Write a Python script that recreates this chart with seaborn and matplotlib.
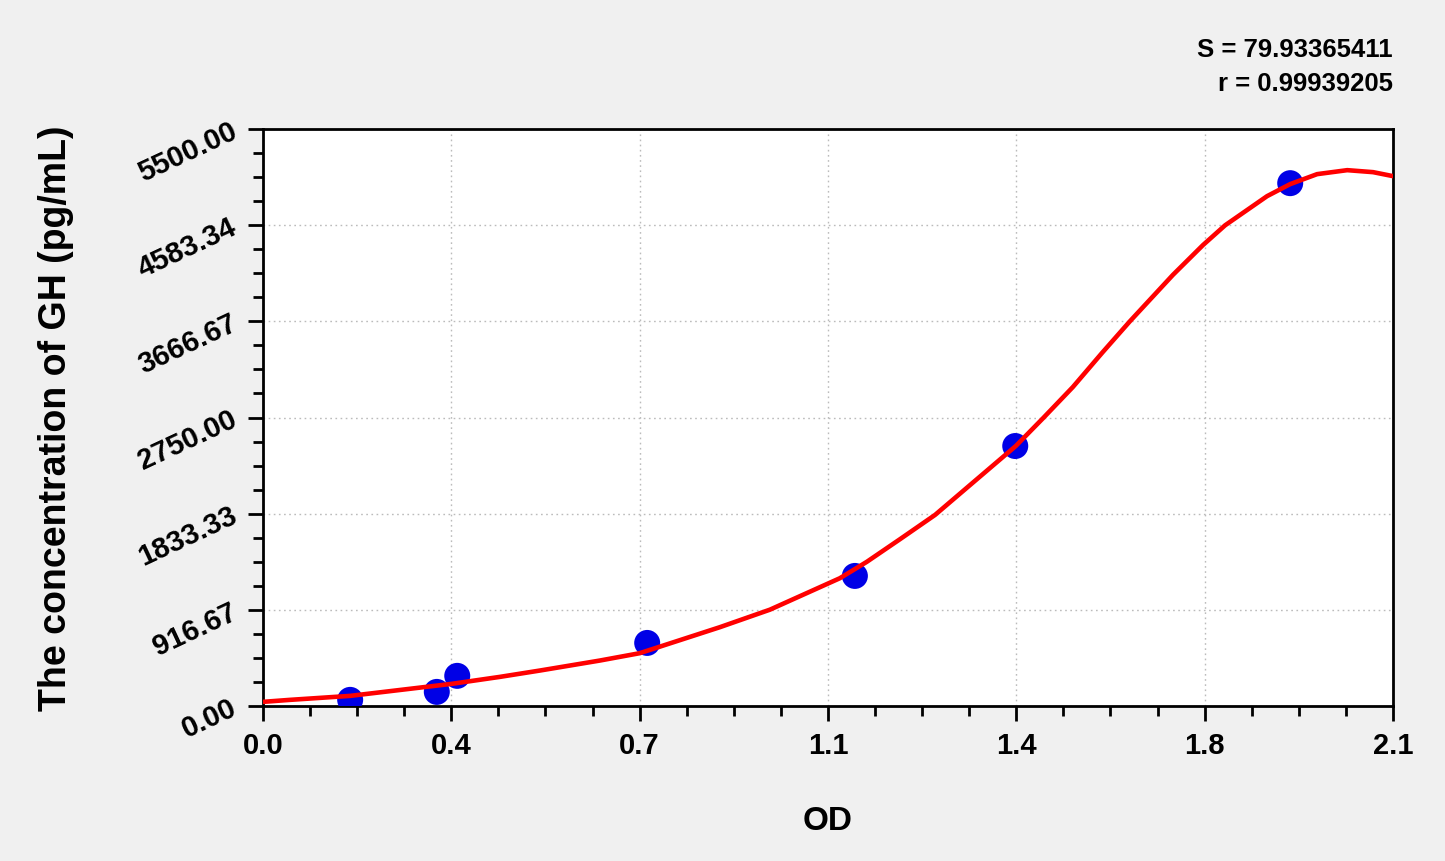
import numpy as np
import pandas as pd
import seaborn as sns
import matplotlib.pyplot as plt
from matplotlib.ticker import AutoMinorLocator

# Standard points (OD, concentration)
od_points = [0.162, 0.323, 0.361, 0.714, 1.100, 1.398, 1.909]
conc_points = [57, 133, 286, 600, 1239, 2478, 4985]

# Fitted curve
curve_od = [0.000, 0.050, 0.162, 0.351, 0.440, 0.515, 0.626, 0.700, 0.849, 0.942,
            1.072, 1.122, 1.184, 1.249, 1.399, 1.450, 1.505, 1.560, 1.611, 1.691,
            1.747, 1.788, 1.866, 1.909, 1.959, 2.015, 2.063, 2.100]
curve_conc = [38, 57, 95, 210, 276, 337, 432, 502, 750, 917,
              1217, 1373, 1590, 1821, 2478, 2745, 3040, 3370, 3667, 4110,
              4395, 4583, 4861, 4976, 5071, 5109, 5090, 5052]

x_tick_labels = ["0.0", "0.4", "0.7", "1.1", "1.4", "1.8", "2.1"]
y_tick_labels = ["0.00", "916.67", "1833.33", "2750.00", "3666.67", "4583.34", "5500.00"]

stats_text = "S = 79.93365411\nr = 0.99939205"

sns.set_style("white")
plt.rcParams['font.family'] = ['Liberation Sans', 'DejaVu Sans']
plt.rcParams['font.weight'] = 'bold'
plt.rcParams['text.color'] = 'black'
plt.rcParams['axes.labelcolor'] = 'black'
plt.rcParams['xtick.color'] = 'black'
plt.rcParams['ytick.color'] = 'black'

fig = plt.figure(figsize=(14.45, 8.62), dpi=100, facecolor='#f0f0f0')
ax = fig.add_axes([0.182, 0.180, 0.782, 0.669])
ax.set_facecolor('white')

df_pts = pd.DataFrame({'OD': od_points, 'conc': conc_points})
df_curve = pd.DataFrame({'OD': curve_od, 'conc': curve_conc})

sns.scatterplot(data=df_pts, x='OD', y='conc', ax=ax, color='#0000e6',
                s=350, edgecolor='none', zorder=3)
sns.lineplot(data=df_curve, x='OD', y='conc', ax=ax, color='#ff0000',
             linewidth=3.3, zorder=4, sort=False)

ax.set_xlim(0, 2.1)
ax.set_ylim(0, 5500)
ax.set_xticks(np.linspace(0, 2.1, 7))
ax.set_xticklabels(x_tick_labels)
ax.set_yticks(np.linspace(0, 5500, 7))
ax.set_yticklabels(y_tick_labels, rotation=25, ha='right', va='center',
                   rotation_mode='anchor')
ax.xaxis.set_minor_locator(AutoMinorLocator(4))
ax.yaxis.set_minor_locator(AutoMinorLocator(4))

ax.tick_params(which='both', bottom=True, left=True, top=False, right=False)
ax.tick_params(which='major', direction='out', length=11, width=2,
               labelsize=21, colors='black')
ax.tick_params(axis='x', which='major', pad=7)
ax.tick_params(axis='y', which='major', pad=9)
ax.tick_params(which='minor', direction='out', length=7, width=2, colors='black')
for lbl in ax.get_xticklabels() + ax.get_yticklabels():
    lbl.set_fontweight('bold')

for side in ['left', 'bottom', 'top', 'right']:
    ax.spines[side].set_visible(True)
    ax.spines[side].set_color('black')
    ax.spines[side].set_linewidth(2)

ax.grid(True, which='major', linestyle=(0, (1.2, 2.5)), color='#bbbbbb', linewidth=1)

ax.set_xlabel("OD", fontsize=24, fontweight='bold')
ax.xaxis.set_label_coords(0.5, -0.172)
ax.set_ylabel("The concentration of GH (pg/mL)", fontsize=27, fontweight='bold')
ax.yaxis.set_label_coords(-0.167, 0.5)

fig.text(0.964, 0.922, stats_text, ha='right', va='center', fontsize=18.5,
         fontweight='bold', linespacing=1.55)

fig.savefig('out.png', dpi=100, facecolor=fig.get_facecolor())
